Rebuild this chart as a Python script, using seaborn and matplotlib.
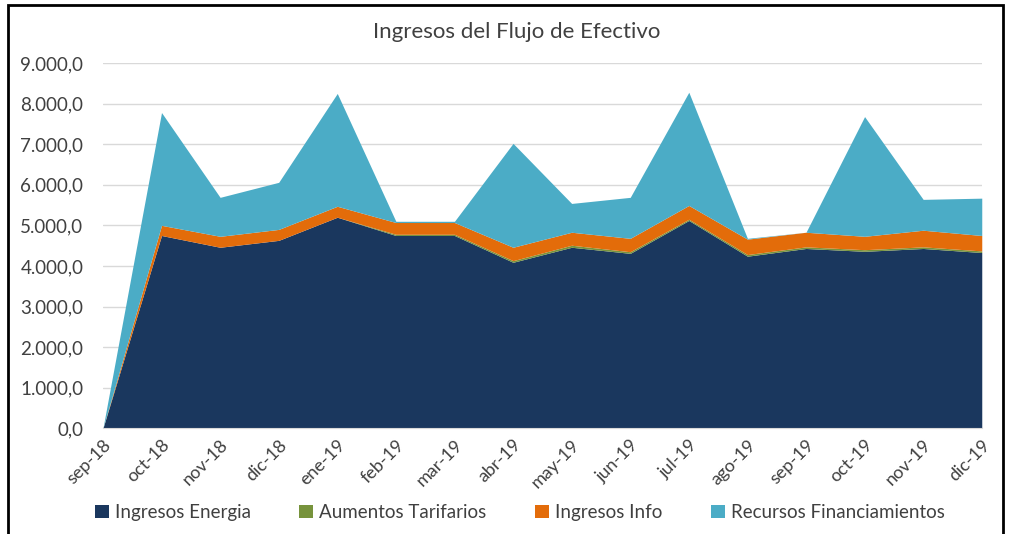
import numpy as np
import pandas as pd
import seaborn as sns
import matplotlib.pyplot as plt
from matplotlib.ticker import FuncFormatter, MultipleLocator
from matplotlib.patches import Rectangle

# Data
months = ["sep-18", "oct-18", "nov-18", "dic-18", "ene-19", "feb-19", "mar-19", "abr-19",
          "may-19", "jun-19", "jul-19", "ago-19", "sep-19", "oct-19", "nov-19", "dic-19"]
ingresos_energia = [0, 4750, 4460, 4630, 5200, 4750, 4750, 4090, 4460, 4310, 5120, 4240, 4430, 4360, 4430, 4330]
aumentos_tarifarios = [0, 0, 0, 0, 0, 30, 30, 40, 50, 40, 30, 40, 40, 40, 40, 40]
ingresos_info = [0, 250, 270, 270, 270, 290, 290, 330, 320, 330, 340, 380, 360, 330, 410, 380]
recursos_financiamientos = [0, 2780, 960, 1160, 2780, 30, 30, 2560, 710, 1010, 2790, 20, 0, 2950, 760, 920]

series = ["Ingresos Energia", "Aumentos Tarifarios", "Ingresos Info", "Recursos Financiamientos"]
colors = ["#1a375e", "#77933c", "#e36c0a", "#4bacc6"]

df = pd.DataFrame({
    "Mes": months,
    series[0]: ingresos_energia,
    series[1]: aumentos_tarifarios,
    series[2]: ingresos_info,
    series[3]: recursos_financiamientos,
})

sns.set_style("white")
plt.rcParams["font.family"] = ["Lato", "DejaVu Sans"]

fig = plt.figure(figsize=(10.09, 5.34), dpi=100)
ax = fig.add_axes([0.102, 0.198, 0.871, 0.684])

x = np.arange(len(months))
ax.stackplot(x, *[df[s] for s in series], colors=colors, labels=series, linewidth=0)

ax.set_xlim(0, len(months) - 1)
ax.set_ylim(0, 9000)
ax.yaxis.set_major_locator(MultipleLocator(1000))
ax.yaxis.set_major_formatter(FuncFormatter(
    lambda v, p: f"{v:,.1f}".replace(",", "X").replace(".", ",").replace("X", ".")))
ax.grid(axis="y", color="#d9d9d9", linewidth=1)
ax.set_axisbelow(True)
for side in ["left", "right", "top"]:
    ax.spines[side].set_visible(False)
ax.spines["bottom"].set_color("#d9d9d9")

ax.set_xticks(x)
ax.set_xticklabels(months, rotation=45, ha="right", rotation_mode="anchor")
ax.tick_params(axis="x", labelsize=13, colors="#404040", length=0, pad=6)
ax.tick_params(axis="y", labelsize=13.5, colors="#404040", length=0, pad=14)

fig.text(0.512, 0.94, "Ingresos del Flujo de Efectivo", ha="center", va="center",
         fontsize=16, color="#404040")

leg = fig.legend(loc="center", bbox_to_anchor=(0.515, 0.04), ncol=4, frameon=False,
                 fontsize=13.5, handlelength=0.75, handleheight=0.75, handletextpad=0.3,
                 columnspacing=2.6)
for t in leg.get_texts():
    t.set_color("#404040")

# chart border
fig.patches.append(Rectangle((0.008, -0.01), 0.986, 1.0, transform=fig.transFigure,
                             fill=False, edgecolor="black", linewidth=2))

fig.savefig("out.png", dpi=100)
